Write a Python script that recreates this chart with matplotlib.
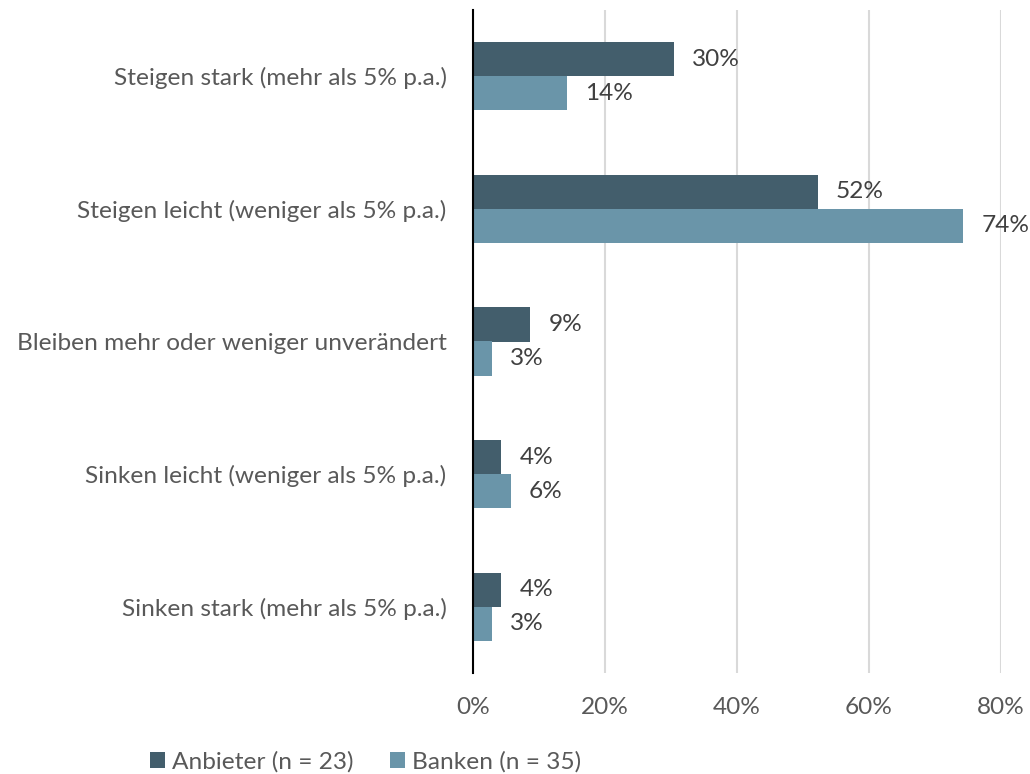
import numpy as np
import matplotlib
matplotlib.use("Agg")
import matplotlib.pyplot as plt
from matplotlib.ticker import FuncFormatter

categories = [
    "Steigen stark (mehr als 5% p.a.)",
    "Steigen leicht (weniger als 5% p.a.)",
    "Bleiben mehr oder weniger unverändert",
    "Sinken leicht (weniger als 5% p.a.)",
    "Sinken stark (mehr als 5% p.a.)",
]
anbieter = [30.4, 52.2, 8.7, 4.3, 4.3]
banken = [14.3, 74.3, 2.9, 5.7, 2.9]
series_names = ["Anbieter (n = 23)", "Banken (n = 35)"]

c_dark = "#435e6c"
c_light = "#6a95a9"
c_text = "#595959"

plt.rcParams['font.family'] = ['Lato', 'DejaVu Sans']
fs = 17.6

fig = plt.figure(figsize=(10.3, 7.74), dpi=100)
ax = fig.add_axes([473 / 1030, 1 - 673 / 774, (1001 - 473) / 1030, (673 - 10) / 774])

y = np.arange(len(categories))
h = 0.257
b1 = ax.barh(y - h / 2, anbieter, height=h, color=c_dark, label=series_names[0], zorder=3)
b2 = ax.barh(y + h / 2, banken, height=h, color=c_light, label=series_names[1], zorder=3)

for bars, vals in ((b1, anbieter), (b2, banken)):
    for bar, v in zip(bars, vals):
        ax.annotate("{0}%".format(int(round(v))), (bar.get_width(), bar.get_y() + bar.get_height() / 2),
                    xytext=(13, 0), textcoords="offset points", va="center", ha="left",
                    fontsize=fs, color="#404040")

ax.set_xlim(0, 80)
ax.set_ylim(len(categories) - 0.5, -0.5)
ax.set_xticks([0, 20, 40, 60, 80])
ax.xaxis.set_major_formatter(FuncFormatter(lambda v, p: "{0:.0f}%".format(v)))
ax.set_yticks(y)
ax.set_yticklabels(categories)
ax.tick_params(axis="both", length=0, labelsize=fs, labelcolor=c_text)
ax.tick_params(axis="y", pad=19)
ax.tick_params(axis="x", pad=17)
ax.grid(axis="x", color="#d9d9d9", linewidth=1.5, zorder=0)
for s in ["top", "right", "bottom"]:
    ax.spines[s].set_visible(False)
ax.spines["left"].set_color("black")
ax.spines["left"].set_linewidth(1.5)
ax.spines["left"].set_zorder(4)

fig.legend(handles=[b1, b2], loc="center left", bbox_to_anchor=(128 / 1030, 1 - 762 / 774),
           ncol=2, frameon=False, fontsize=fs, labelcolor=c_text,
           handlelength=0.6, handleheight=0.6, handletextpad=0.3, columnspacing=1.5)

fig.savefig("out.png", dpi=100)
